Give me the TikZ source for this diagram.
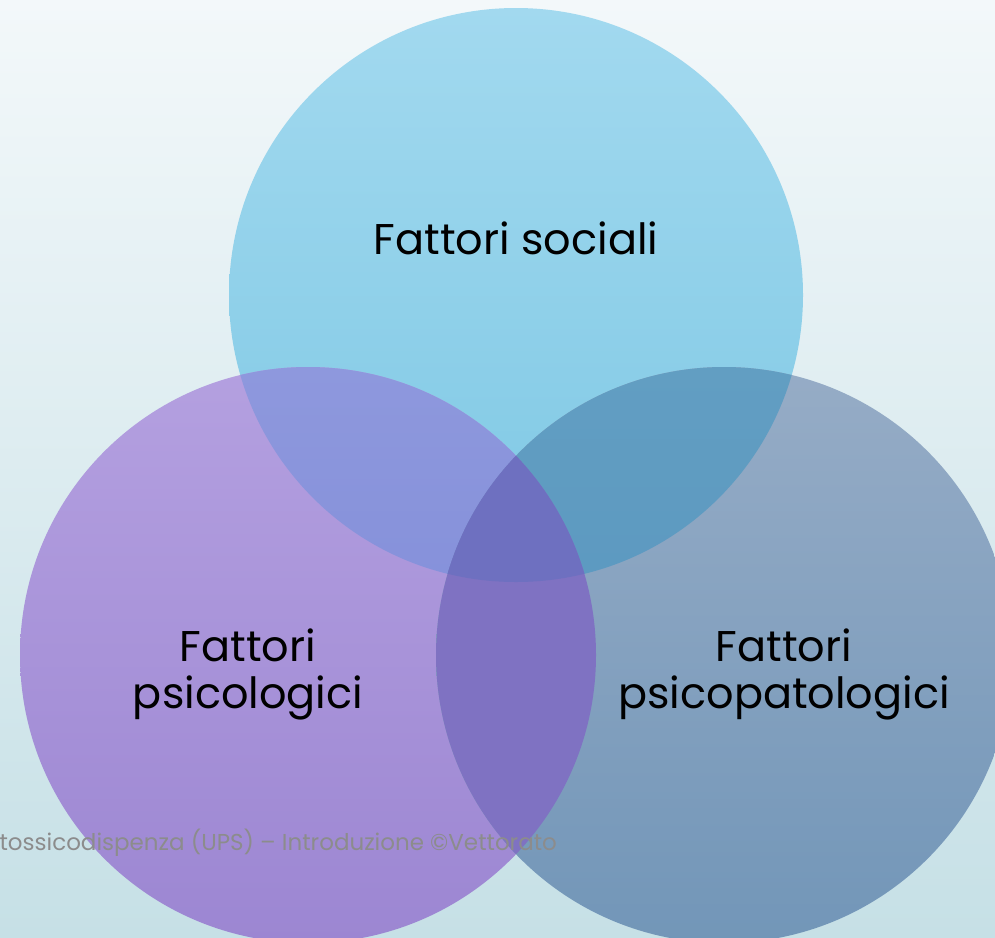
\documentclass[tikz,border=0pt]{standalone}
\usepackage{fontspec}
\setmainfont{Poppins}
\usepackage{tikz}
\usepackage{xcolor}

\definecolor{bgtop}{RGB}{243,248,250}
\definecolor{bgbot}{RGB}{198,224,230}
\definecolor{soctop}{RGB}{162,217,239}
\definecolor{socbot}{RGB}{126,200,228}
\definecolor{psitop}{RGB}{180,160,224}
\definecolor{psibot}{RGB}{156,134,210}
\definecolor{patop}{RGB}{150,172,198}
\definecolor{pabot}{RGB}{114,150,184}
\definecolor{footgrey}{RGB}{140,140,140}

\tikzset{
  label text/.style={font=\fontsize{43}{47}\selectfont, align=center, text=black},
  foot text/.style={font=\fontsize{23}{27}\selectfont, text=footgrey, anchor=west}
}

\begin{document}
\begin{tikzpicture}[x=1pt,y=-1pt]
        % background
        \shade[top color=bgtop,bottom color=bgbot] (0,0) rectangle (995,937);
        \useasboundingbox (0,0) rectangle (995,937);

        % circle centres
        \coordinate (cSoc) at (516,295);
        \coordinate (cPsi) at (308,655);
        \coordinate (cPat) at (724,655);

        % the three circles
        \shade[top color=soctop,bottom color=socbot] (cSoc) circle[radius=287];
        \shade[top color=psitop,bottom color=psibot] (cPsi) circle[radius=288];
        \shade[top color=patop,bottom color=pabot] (cPat) circle[radius=288];

        % overlaps
        \begin{scope}
          \clip (cSoc) circle[radius=287];
          \shade[top color={rgb,255:red,142;green,152;blue,221},bottom color={rgb,255:red,120;green,134;blue,214}] (cPsi) circle[radius=288];
          \shade[top color={rgb,255:red,98;green,158;blue,194},bottom color={rgb,255:red,84;green,146;blue,190}] (cPat) circle[radius=288];
        \end{scope}
        \begin{scope}
          \clip (cPsi) circle[radius=288];
          \fill[color={rgb,255:red,127;green,114;blue,194}] (cPat) circle[radius=288];
          \clip (cPat) circle[radius=288];
          \fill[color={rgb,255:red,110;green,112;blue,192}] (cSoc) circle[radius=287];
        \end{scope}

        % labels
        \node[label text] (sociali) at (516,238) {Fattori sociali};
        \node[label text] (psicologici) at (248,674) {Fattori\\psicologici};
        \node[label text] (psicopat) at (784,674) {Fattori\\psicopatologici};

        % footer
        \node[foot text] (footer) at (-4,843) {tossicodispenza (UPS) – Introduzione ©Vettorato};
    \end{tikzpicture}
\end{document}
